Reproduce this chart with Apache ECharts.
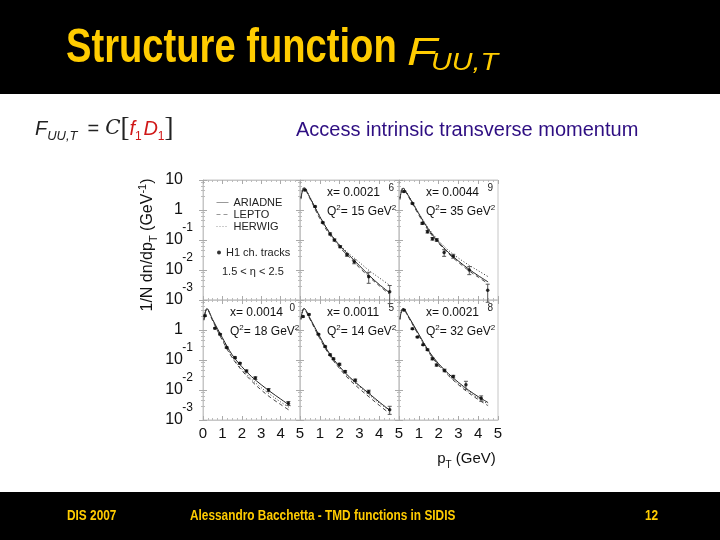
<!DOCTYPE html>
<html><head><meta charset="utf-8">
<script src="https://cdn.jsdelivr.net/npm/echarts@6/dist/echarts.min.js"></script>
<style>html,body{margin:0;padding:0;background:#fff}#c{width:720px;height:540px}</style>
</head><body><div id="c"></div>
<script>
// ---------------- data ----------------
const xTickLabels = ['0','1','2','3','4','5'];
const modelNames = ['ARIADNE','LEPTO','HERWIG'];
const dataName = 'H1 ch. tracks';
const etaRange = '1.5 < η < 2.5';
const curvePt = [0.05,0.2,0.5,1.0,1.5,2.0,2.5,3.0,3.5,4.0,4.5];

const panelX   = ['0.0021','0.0044','0.0014','0.0011','0.0021'];
const panelQ2  = ['15','35','18','14','32'];
const panelNum = ['6','9','0','5','8'];

// panel A (x=0.0021, Q2=15)
const aPt  = [0.25,0.76,1.15,1.52,1.74,2.03,2.37,2.74,3.47,4.53];
const aVal = [4.6,1.3,0.38,0.16,0.10,0.06,0.032,0.019,0.006,0.0019];
const aErr = [0.05,0.05,0.05,0.08,0.08,0.08,0.1,0.15,0.4,0.6];
const aAriadne = [2.5,5.5,2.6,0.6,0.17,0.065,0.03,0.014,0.0065,0.0033,0.0018];
const aLepto   = [2.3,5.2,2.4,0.52,0.15,0.058,0.026,0.012,0.0058,0.003,0.0016];
const aHerwig  = [2.6,5.8,2.7,0.62,0.18,0.07,0.034,0.018,0.0095,0.0055,0.0032];

// panel B (x=0.0044, Q2=35)
const bPt  = [0.25,0.68,1.18,1.44,1.69,1.91,2.28,2.74,3.55,4.48];
const bVal = [4.1,1.66,0.36,0.19,0.11,0.10,0.038,0.029,0.010,0.0021];
const bErr = [0.05,0.05,0.08,0.1,0.1,0.1,0.25,0.15,0.3,0.6];
const bAriadne = [2.4,5.3,2.8,0.75,0.22,0.085,0.038,0.02,0.011,0.0065,0.004];
const bLepto   = [2.2,5.0,2.6,0.68,0.2,0.078,0.035,0.018,0.0098,0.0058,0.0035];
const bHerwig  = [2.5,5.6,2.9,0.78,0.24,0.095,0.045,0.025,0.015,0.0095,0.006];

// panel C (x=0.0014, Q2=18)
const cPt  = [0.1,0.62,0.88,1.22,1.65,1.9,2.24,2.7,3.38,4.4];
const cVal = [3.0,1.14,0.72,0.26,0.12,0.078,0.043,0.025,0.01,0.0036];
const cErr = [0.05,0.05,0.05,0.05,0.06,0.06,0.08,0.1,0.12,0.15];
const cAriadne = [2.3,5.2,2.2,0.55,0.15,0.06,0.028,0.015,0.0085,0.005,0.003];
const cLepto   = [2.1,5.0,2.0,0.45,0.12,0.045,0.02,0.01,0.0055,0.0033,0.002];
const cHerwig  = [2.2,5.1,2.1,0.5,0.13,0.05,0.023,0.012,0.0068,0.004,0.0025];

// panel D (x=0.0011, Q2=14)
const dPt  = [0.15,0.45,0.93,1.27,1.52,1.69,1.99,2.28,2.79,3.47,4.53];
const dVal = [2.8,3.3,0.72,0.28,0.15,0.11,0.072,0.041,0.021,0.0088,0.0022];
const dErr = [0.05,0.05,0.05,0.05,0.06,0.06,0.08,0.08,0.1,0.12,0.3];
const dAriadne = [2.4,5.3,2.5,0.6,0.16,0.06,0.027,0.014,0.0075,0.004,0.0022];
const dLepto   = [2.2,5.0,2.3,0.52,0.14,0.052,0.022,0.011,0.0058,0.0031,0.0017];
const dHerwig  = [2.3,5.1,2.4,0.56,0.15,0.056,0.025,0.013,0.0068,0.0037,0.0021];

// panel E (x=0.0021, Q2=32)
const ePt  = [0.25,0.68,0.93,1.22,1.44,1.69,1.9,2.3,2.74,3.38,4.15];
const eVal = [4.6,1.1,0.58,0.32,0.22,0.11,0.068,0.045,0.028,0.015,0.0053];
const eErr = [0.05,0.05,0.05,0.05,0.06,0.08,0.08,0.1,0.1,0.3,0.2];
const eAriadne = [2.4,5.3,2.7,0.72,0.2,0.075,0.035,0.018,0.01,0.006,0.0038];
const eLepto   = [2.2,5.0,2.5,0.65,0.18,0.066,0.03,0.015,0.0082,0.0048,0.003];
const eHerwig  = [2.3,5.2,2.6,0.68,0.19,0.07,0.032,0.016,0.009,0.0053,0.0034];

const panels = [
  {grid:1, pt:aPt, val:aVal, err:aErr, models:[aAriadne,aLepto,aHerwig]},
  {grid:2, pt:bPt, val:bVal, err:bErr, models:[bAriadne,bLepto,bHerwig]},
  {grid:3, pt:cPt, val:cVal, err:cErr, models:[cAriadne,cLepto,cHerwig]},
  {grid:4, pt:dPt, val:dVal, err:dErr, models:[dAriadne,dLepto,dHerwig]},
  {grid:5, pt:ePt, val:eVal, err:eErr, models:[eAriadne,eLepto,eHerwig]}
];

// ---------------- layout ----------------
const cols = [{left:203,width:97},{left:300,width:99},{left:399,width:99}];
const rows = [{top:180,height:120},{top:300,height:120}];
const FONT = '"Liberation Sans", Arial, sans-serif';
const frameColor = '#c6c6c6';

const grids = [], xAxes = [], yAxes = [];
for (let r = 0; r < 2; r++) for (let c = 0; c < 3; c++) {
  const g = r*3 + c;
  grids.push({left:cols[c].left, top:rows[r].top, width:cols[c].width, height:rows[r].height,
    show:true, borderColor:frameColor, borderWidth:1, backgroundColor:'transparent'});
  const xBase = {type:'value', gridIndex:g, min:0, max:5, interval:1,
    axisLine:{show:true, lineStyle:{color:frameColor}},
    axisTick:{show:true, inside:true, length:4, lineStyle:{color:'#aaa'}},
    minorTick:{show:true, splitNumber:4, length:2, lineStyle:{color:'#bbb'}},
    splitLine:{show:false}};
  xAxes.push(Object.assign({}, xBase, {position:'bottom',
    axisLabel:{show:r===1, margin:6, fontSize:15, color:'#111', fontFamily:FONT,
      formatter:(v)=> (c>0 && v===0) ? '' : xTickLabels[Math.round(v)]},
    name: g===5 ? '{a|p}{s|T}{a| (GeV)}' : '',
    nameLocation:'middle', nameGap:28,
    nameTextStyle:{padding:[0,0,0,36], rich:{
      a:{fontSize:15, fontFamily:FONT, color:'#111', lineHeight:22},
      s:{fontSize:10, fontFamily:FONT, color:'#111', verticalAlign:'bottom', lineHeight:10}}}
  }));
  xAxes.push(Object.assign({}, xBase, {position:'top', axisLabel:{show:false}}));
  const yBase = {type:'log', logBase:10, gridIndex:g, min:0.001, max:10,
    axisLine:{show:true, lineStyle:{color:frameColor}},
    axisTick:{show:true, inside:true, length:4, lineStyle:{color:'#aaa'}},
    minorTick:{show:true, splitNumber:5, length:2, lineStyle:{color:'#bbb'}},
    splitLine:{show:false}};
  yAxes.push(Object.assign({}, yBase, {position:'left',
    axisLabel:{show:c===0, margin:10, formatter:(v)=>{
        const e = Math.round(Math.log10(v));
        if (r===1 && e===1) return '';
        if (e===1) return '{n|10}{e| }';
        if (e===0) return '{n|1}{e| }';
        return '{n|10}{e|' + e + '}';
      },
      rich:{n:{fontSize:16, fontFamily:FONT, color:'#111', lineHeight:36},
            e:{fontSize:12, fontFamily:FONT, color:'#111', width:10, verticalAlign:'top', lineHeight:12}}},
    name: g===0 ? '{a|1/N dn/dp}{s|T}{a| (GeV}{p|-1}{a|)}' : '',
    nameLocation:'middle', nameGap:44,
    nameTextStyle:{padding:[0,10,0,0], rich:{
      a:{fontSize:16, fontFamily:FONT, color:'#111', lineHeight:22},
      s:{fontSize:11, fontFamily:FONT, color:'#111', verticalAlign:'bottom', lineHeight:11},
      p:{fontSize:11, fontFamily:FONT, color:'#111', verticalAlign:'top', lineHeight:11}}}
  }));
  yAxes.push(Object.assign({}, yBase, {position:'right', axisLabel:{show:false}}));
}

const series = [];
const lineStyles = [
  {color:'#222', width:1, type:'solid'},
  {color:'#444', width:1, type:[4,3]},
  {color:'#333', width:1, type:[1,2]}
];
panels.forEach(p => {
  const xi = p.grid*2, yi = p.grid*2;
  p.models.forEach((m, k) => {
    series.push({type:'line', name:modelNames[k], xAxisIndex:xi, yAxisIndex:yi,
      data: curvePt.map((x,i)=>[x, m[i]]), smooth:0.35, symbol:'none',
      lineStyle:lineStyles[k], itemStyle:{color:lineStyles[k].color}, z:3, animation:false});
  });
  series.push({type:'custom', name:dataName+' err', xAxisIndex:xi, yAxisIndex:yi,
    data: p.pt.map((x,i)=>[x, p.val[i]*(1-p.err[i]), p.val[i]*(1+p.err[i])]),
    encode:{x:0, y:[1,2]},
    renderItem:(params, api)=>{
      const x = api.value(0);
      const a = api.coord([x, api.value(1)]), b = api.coord([x, api.value(2)]);
      const st = {stroke:'#555', lineWidth:1};
      return {type:'group', children:[
        {type:'line', shape:{x1:a[0],y1:a[1],x2:b[0],y2:b[1]}, style:st},
        {type:'line', shape:{x1:a[0]-2,y1:a[1],x2:a[0]+2,y2:a[1]}, style:st},
        {type:'line', shape:{x1:b[0]-2,y1:b[1],x2:b[0]+2,y2:b[1]}, style:st}]};
    }, z:4, animation:false, silent:true});
  series.push({type:'scatter', name:dataName, xAxisIndex:xi, yAxisIndex:yi,
    data: p.pt.map((x,i)=>[x, p.val[i]]), symbol:'circle', symbolSize:3.5,
    itemStyle:{color:'#000'}, z:5, animation:false});
});

// ---------------- slide texts ----------------
const yellow = '#FFCC00';
const graphic = [
  {type:'rect', shape:{x:0,y:0,width:720,height:94}, style:{fill:'#000'}, silent:true},
  {type:'rect', shape:{x:0,y:492,width:720,height:48}, style:{fill:'#000'}, silent:true},
  {type:'text', x:66, y:49, scaleX:0.795, style:{text:'Structure function', fill:yellow,
    font:'bold 48px ' + FONT, verticalAlign:'middle'}},
  {type:'text', x:407, y:54, scaleX:1.3, style:{text:'F', fill:yellow,
    font:'italic 38px ' + FONT, verticalAlign:'middle'}},
  {type:'text', x:431, y:64, scaleX:1.25, style:{text:'UU,T', fill:yellow,
    font:'italic 23px ' + FONT, verticalAlign:'middle'}},
  {type:'text', x:35, y:129, style:{
    text:'{F|F}{s|UU,T}{o|=}{c|C}{b|[}{r|f}{rs|1}{g| }{r|D}{rs|1}{b|]}',
    verticalAlign:'middle', rich:{
      F:{fontSize:20, fontFamily:FONT, fontStyle:'italic', fill:'#222', lineHeight:28},
      s:{fontSize:13, fontFamily:FONT, fontStyle:'italic', fill:'#222', verticalAlign:'bottom', lineHeight:13},
      o:{fontSize:20, fontFamily:FONT, fill:'#222', padding:[0,6,0,10]},
      c:{fontSize:20, fontFamily:'"DejaVu Serif", serif', fontStyle:'italic', fill:'#222'},
      b:{fontSize:27, fontFamily:'"Liberation Serif", serif', fill:'#222'},
      g:{fontSize:6, fontFamily:FONT},
      r:{fontSize:20, fontFamily:FONT, fontStyle:'italic', fill:'#d01818'},
      rs:{fontSize:12, fontFamily:FONT, fill:'#d01818', verticalAlign:'bottom', lineHeight:12}}}},
  {type:'text', x:296, y:130, style:{text:'Access intrinsic transverse momentum', fill:'#2E0E82',
    font:'20px ' + FONT, verticalAlign:'middle'}},
  {type:'text', x:67, y:516, scaleX:0.79, style:{text:'DIS 2007', fill:yellow, font:'bold 15px ' + FONT, verticalAlign:'middle'}},
  {type:'text', x:190, y:516, scaleX:0.79, style:{text:'Alessandro Bacchetta - TMD functions in SIDIS', fill:yellow, font:'bold 15px ' + FONT, verticalAlign:'middle'}},
  {type:'text', x:645, y:516, scaleX:0.79, style:{text:'12', fill:yellow, font:'bold 15px ' + FONT, verticalAlign:'middle'}},
  {type:'text', x:222, y:272, style:{text:etaRange, fill:'#222', font:'11px ' + FONT, verticalAlign:'middle'}}
];
panels.forEach((p, i) => {
  const g = p.grid, c = g % 3, r = Math.floor(g/3);
  const L = cols[c].left, T = rows[r].top, W = cols[c].width;
  graphic.push({type:'text', x:L+27, y:T+13, style:{text:'x= ' + panelX[i], fill:'#111',
    font:'12px ' + FONT, verticalAlign:'middle'}});
  graphic.push({type:'text', x:L+27, y:T+32, style:{text:'{t|Q}{p|2}{t|= ' + panelQ2[i] + ' GeV}{p|2}',
    verticalAlign:'middle', rich:{t:{fontSize:12, fontFamily:FONT, fill:'#111', lineHeight:16},
      p:{fontSize:8, fontFamily:FONT, fill:'#111', verticalAlign:'top', lineHeight:8}}}});
  graphic.push({type:'text', x:L+W-5, y:T+8, style:{text:panelNum[i], fill:'#222',
    font:'10px ' + FONT, align:'right', verticalAlign:'middle'}});
});

const chart = echarts.init(document.getElementById('c'), null, {renderer:'canvas'});
chart.setOption({
  backgroundColor:'#fff',
  animation:false,
  grid:grids, xAxis:xAxes, yAxis:yAxes, series:series, graphic:graphic,
  legend:[
    {data:modelNames, orient:'vertical', left:211, top:192, itemWidth:12, itemHeight:6, itemGap:1,
     itemStyle:{opacity:0}, lineStyle:{color:'#999', width:1}, selectedMode:false,
     textStyle:{fontSize:11, color:'#222', fontFamily:FONT, lineHeight:11}},
    {data:[dataName], left:212, top:242, icon:'circle', itemWidth:4, itemHeight:4,
     selectedMode:false, textStyle:{fontSize:11, color:'#222', fontFamily:FONT}}
  ]
});
</script></body></html>
